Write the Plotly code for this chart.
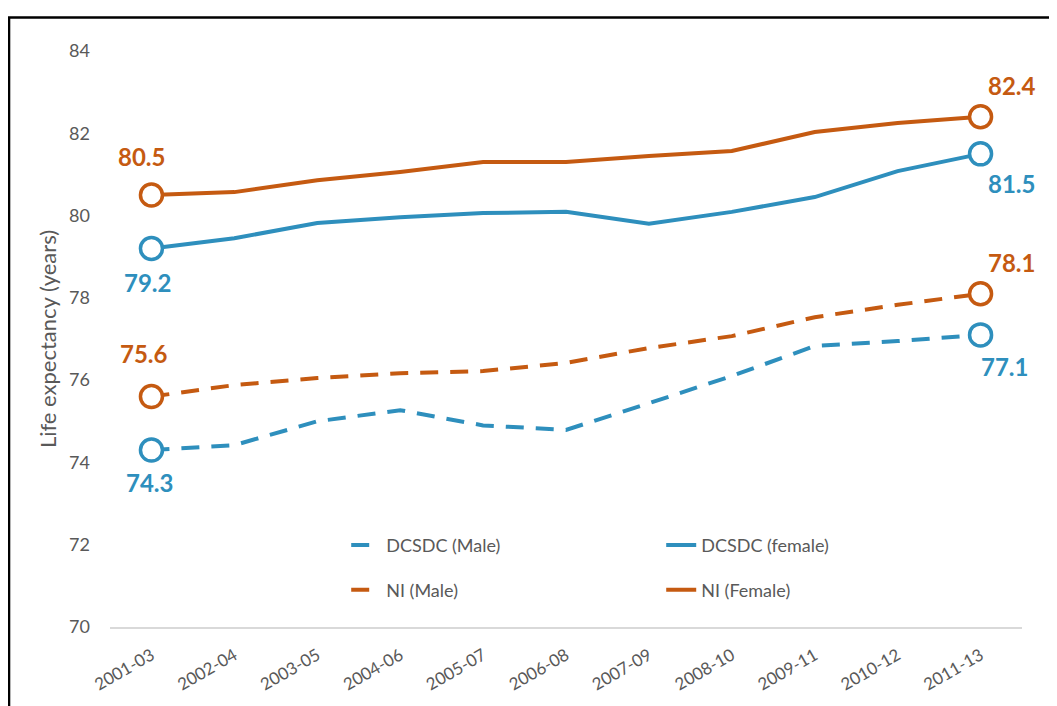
import plotly.graph_objects as go

periods = ["2001-03", "2002-04", "2003-05", "2004-06", "2005-07", "2006-08",
           "2007-09", "2008-10", "2009-11", "2010-12", "2011-13"]

dcsdc_male = [74.3, 74.42, 75.0, 75.27, 74.9, 74.79, 75.44, 76.1, 76.83, 76.95, 77.1]
dcsdc_female = [79.2, 79.45, 79.82, 79.96, 80.06, 80.09, 79.8, 80.09, 80.45, 81.08, 81.5]
ni_male = [75.6, 75.88, 76.05, 76.17, 76.22, 76.42, 76.78, 77.07, 77.53, 77.83, 78.1]
ni_female = [80.5, 80.57, 80.86, 81.06, 81.3, 81.3, 81.45, 81.57, 82.03, 82.25, 82.4]

y_ticks = [70, 72, 74, 76, 78, 80, 82, 84]

BLUE = "#2E8FBD"
ORANGE = "#C55A11"
GREY = "#595959"
FONT = "Lato"
DASH = "18px,12px"

# name, values, colour, dash, legend, label shifts (first, last) as (dx, dy)
series = [
    ("DCSDC (Male)", dcsdc_male, BLUE, DASH, "legend", [(-2, -32), (24, -32)]),
    ("DCSDC (female)", dcsdc_female, BLUE, "solid", "legend", [(-4, -34), (31, -30)]),
    ("NI (Male)", ni_male, ORANGE, DASH, "legend2", [(-7, 43), (31, 31)]),
    ("NI (Female)", ni_female, ORANGE, "solid", "legend2", [(-10, 39), (31, 31)]),
]

fig = go.Figure()
annotations = []
for name, vals, col, dash, leg, shifts in series:
    fig.add_trace(go.Scatter(
        x=periods, y=vals, mode="lines", name=name, legend=leg,
        line=dict(color=col, width=4, dash=dash),
    ))
    ends = [0, len(periods) - 1]
    fig.add_trace(go.Scatter(
        x=[periods[i] for i in ends], y=[vals[i] for i in ends], mode="markers",
        showlegend=False, hoverinfo="skip",
        marker=dict(size=22, color="white", line=dict(color=col, width=3.5)),
    ))
    for i, (dx, dy) in zip(ends, shifts):
        annotations.append(dict(
            x=periods[i], y=vals[i], text=f"{vals[i]:.1f}", showarrow=False,
            xshift=dx, yshift=dy,
            font=dict(family=FONT, size=24, color=col, weight="bold"),
        ))

annotations.append(dict(text="Life expectancy (years)", xref="paper", yref="paper",
                        x=-0.069, y=0.5, xanchor="center", yanchor="middle",
                        textangle=-90, showarrow=False,
                        font=dict(family=FONT, size=22, color=GREY)))

fig.update_layout(
    width=1049, height=698,
    margin=dict(l=102, r=35, t=43, b=79),
    paper_bgcolor="white", plot_bgcolor="white",
    font=dict(family=FONT, size=16, color=GREY),
    legend=dict(orientation="h", x=0.259, y=0.142, xanchor="left", yanchor="middle",
                entrywidth=270, font=dict(size=18, color=GREY), bgcolor="rgba(0,0,0,0)"),
    legend2=dict(orientation="h", x=0.259, y=0.064, xanchor="left", yanchor="middle",
                 entrywidth=270, font=dict(size=18, color=GREY), bgcolor="rgba(0,0,0,0)"),
    shapes=[dict(type="rect", xref="paper", yref="paper",
                 x0=-0.1107, x1=1.2, y0=-0.3, y1=1.0582,
                 line=dict(color="black", width=2.5), layer="below")],
    annotations=annotations,
)
fig.update_xaxes(
    type="category", range=[-0.5, len(periods) - 0.5], showgrid=False,
    showline=True, linecolor="#D9D9D9", linewidth=2,
    tickangle=-30, tickfont=dict(size=17, color=GREY), ticks="",
    ticklabelstandoff=10,
)
fig.update_yaxes(
    range=[70, 84], tickvals=y_ticks, showgrid=False, zeroline=False, showline=False,
    tickfont=dict(size=18, color=GREY), ticks="", ticklabelstandoff=19,
)

fig.write_html("out.html")
